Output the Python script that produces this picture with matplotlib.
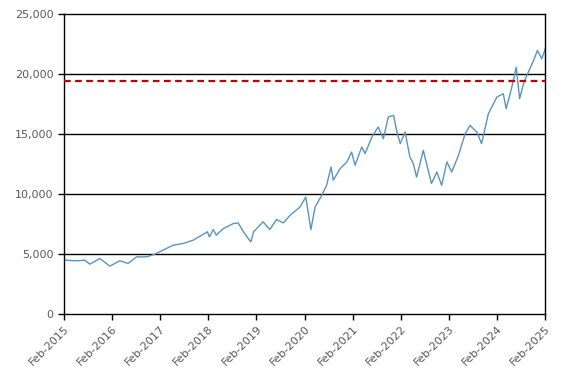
import pandas as pd
import matplotlib.pyplot as plt
import matplotlib.dates as mdates
from matplotlib.ticker import FuncFormatter

# values (approximate)
dates = [
    "2015-02-01", "2015-05-08", "2015-07-10", "2015-08-16", "2015-11-01",
    "2016-01-15", "2016-04-01", "2016-06-01", "2016-08-06", "2016-10-21",
    "2016-12-22", "2017-02-22", "2017-05-10", "2017-07-26", "2017-10-10",
    "2018-01-25", "2018-02-09", "2018-03-10", "2018-04-02", "2018-05-25",
    "2018-08-10", "2018-09-15", "2018-10-25", "2018-12-20", "2019-01-10",
    "2019-03-23", "2019-05-13", "2019-07-03", "2019-08-24", "2019-10-14",
    "2019-12-29", "2020-02-10", "2020-03-20", "2020-04-21", "2020-06-11",
    "2020-07-17", "2020-08-20", "2020-09-06", "2020-10-28", "2020-12-18",
    "2021-01-23", "2021-02-18", "2021-04-10", "2021-05-05", "2021-06-26",
    "2021-08-12", "2021-09-21", "2021-10-28", "2021-12-07", "2022-01-02",
    "2022-01-27", "2022-03-05", "2022-04-10", "2022-05-06", "2022-05-31",
    "2022-07-21", "2022-09-21", "2022-11-01", "2022-12-07", "2023-01-16",
    "2023-02-22", "2023-04-14", "2023-06-04", "2023-07-11", "2023-08-31",
    "2023-10-06", "2023-11-27", "2024-01-31", "2024-03-19", "2024-04-10",
    "2024-05-23", "2024-06-25", "2024-07-21", "2024-08-23", "2024-09-25",
    "2024-11-04", "2024-12-03", "2025-01-05", "2025-02-01",
]
values = [
    4485, 4430, 4480, 4150, 4620,
    3990, 4430, 4210, 4760, 4760,
    4985, 5320, 5730, 5870, 6150,
    6840, 6420, 7030, 6560, 7110,
    7530, 7580, 6840, 6000, 6840,
    7670, 7030, 7860, 7580, 8220,
    8910, 9740, 7030, 8910, 9880,
    10710, 12230, 11130, 12100, 12650,
    13480, 12380, 13900, 13350, 14730,
    15560, 14590, 16390, 16530, 15140,
    14180, 15140, 13070, 12520, 11400,
    13620, 10860, 11820, 10710, 12650,
    11820, 13210, 15010, 15700, 15140,
    14180, 16670, 18060, 18330, 17090,
    18880, 20540, 17920, 19300, 20130,
    21100, 21930, 21240, 22070,
]
ref_level = 19420
tick_years = list(range(2015, 2026))

x = pd.to_datetime(dates)

fig = plt.figure(figsize=(5.71, 3.77), dpi=100)
ax = fig.add_axes([0.112, 0.167, 0.843, 0.797])

for yv in [5000, 10000, 15000, 20000]:
    ax.axhline(yv, color="black", lw=1.0, zorder=1)

ax.plot(x, values, color="#5b93c0", lw=1.0, zorder=2)
ax.axhline(ref_level, color="#c00000", lw=1.6, ls=(0, (3, 2)), zorder=3)

ax.set_ylim(0, 25000)
ax.set_yticks(range(0, 25001, 5000))
ax.yaxis.set_major_formatter(FuncFormatter(lambda v, p: f"{int(v):,}"))

ticks = pd.to_datetime([f"{y}-02-01" for y in tick_years])
ax.set_xlim(ticks[0], ticks[-1])
ax.set_xticks(ticks)
ax.set_xticklabels([f"Feb-{y}" for y in tick_years], rotation=45,
                   ha="right", rotation_mode="anchor")

for s in ax.spines.values():
    s.set_color("black")
    s.set_linewidth(1.0)

ax.tick_params(axis="both", colors="black", labelcolor="#595959",
               labelsize=8, direction="out", length=4, width=1)
ax.tick_params(axis="x", pad=3)

fig.savefig("out.png", dpi=100)
